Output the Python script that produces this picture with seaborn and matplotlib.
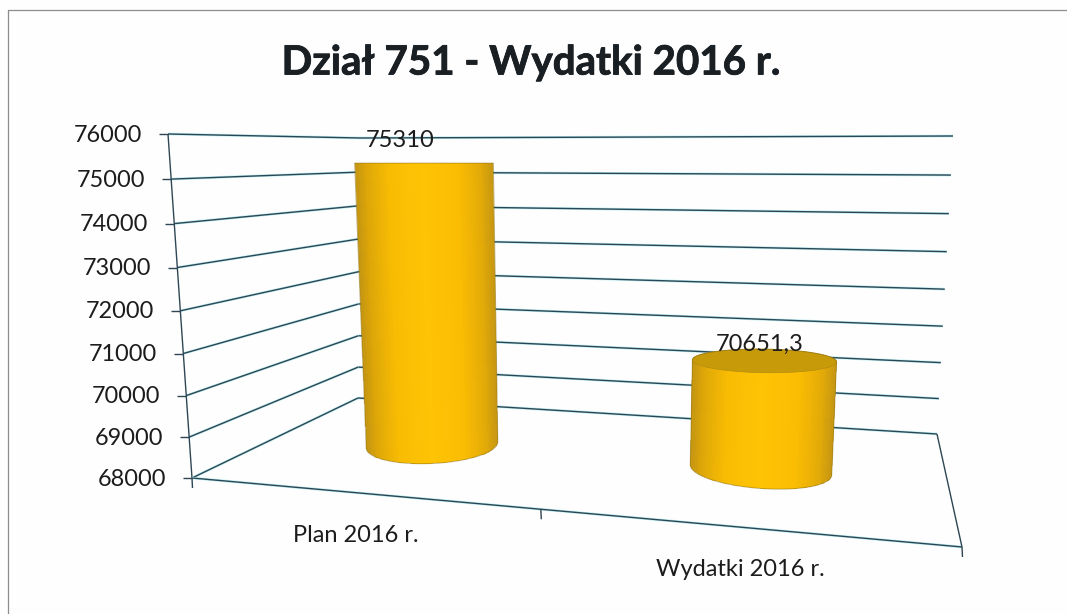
import numpy as np
import pandas as pd
import matplotlib
matplotlib.use("Agg")
import matplotlib.pyplot as plt
import matplotlib.patheffects as pe
import seaborn as sns
from matplotlib.colors import LinearSegmentedColormap
from matplotlib.patches import Polygon
from matplotlib.path import Path
from matplotlib.transforms import Transform, IdentityTransform

# ---- data ----
title = "Dział 751 - Wydatki 2016 r."
categories = ["Plan 2016 r.", "Wydatki 2016 r."]
values = [75310, 70651.3]
value_labels = ["75310", "70651,3"]
y_ticks = [68000, 69000, 70000, 71000, 72000, 73000, 74000, 75000, 76000]

W, H = 1067, 614
sns.set_theme(style="white")
plt.rcParams["font.family"] = ["Lato", "DejaVu Sans"]


class Plane(Transform):
    """View of one wall of the 3-D chart: (a, value) -> pixels."""
    input_dims = output_dims = 2
    is_affine = False
    has_inverse = False

    def __init__(self, xlim, ylim, bl, br, tl, tr, curve=-0.056):
        super().__init__()
        self.xlim, self.ylim, self.curve = xlim, ylim, curve
        self.c = [np.array([p[0], H - p[1]], float) for p in (bl, br, tl, tr)]

    def transform_non_affine(self, values):
        pts = np.asarray(values, float).reshape(-1, 2)
        u = ((pts[:, 0] - self.xlim[0]) / (self.xlim[1] - self.xlim[0]))[:, None]
        v = ((pts[:, 1] - self.ylim[0]) / (self.ylim[1] - self.ylim[0]))[:, None]
        v = v + self.curve * v * (1 - v)
        bl, br, tl, tr = self.c
        return (1 - v) * ((1 - u) * bl + u * br) + v * ((1 - u) * tl + u * tr)


fig = plt.figure(figsize=(W / 100, H / 100), dpi=100, facecolor="#fefefe")
ax = fig.add_axes([0, 0, 1, 1])

df = pd.DataFrame({"kategoria": categories, "wartosc": values})
sns.barplot(data=df, x="kategoria", y="wartosc", color="#FFC000", saturation=1,
            width=0.42, ax=ax, zorder=3)
ax.set_xlim(-0.5, 1.5)
ax.set_ylim(y_ticks[0], y_ticks[-1])
ax.autoscale(False)
ax.axis("off")
ylim = ax.get_ylim()
px = IdentityTransform()

bars = Plane(ax.get_xlim(), ylim, (267.5, 432.5), (925.5, 482.5), (248.8, 138.5), (946.4, 124.5))
side = Plane((0, 1), ylim, (192, 478), (358, 398), (168, 134), (360, 138))
back = Plane((0, 1), ylim, (358, 398), (937, 434), (360, 138), (953, 136))
floor = Plane((0, 1), (0, 1), (192, 478), (962, 547), (358, 398), (937, 434), curve=0)

LINE = "#2e4653"
fringe = [pe.Stroke(linewidth=1.9, foreground="#bdeef2"), pe.Normal()]
line_kw = dict(color=LINE, lw=1.0, zorder=1, clip_on=False, solid_capstyle="butt")

# scanned page frame
fig.add_artist(plt.Line2D([7.5 / W, 7.5 / W], [0, 1 - 10 / H], color="#8c8c8c", lw=0.9))
fig.add_artist(plt.Line2D([7.5 / W, 1], [1 - 10 / H, 1 - 10 / H], color="#8c8c8c", lw=0.9))

# walls, floor, axis
for v in y_ticks:
    ax.plot([0, 1], [v, v], transform=side, path_effects=fringe, **line_kw)
    ax.plot([0, 1], [v, v], transform=back, path_effects=fringe, **line_kw)
    x0, y0 = side.transform([(0, v)])[0]
    ax.plot([x0 - 9, x0], [y0, y0], transform=px, **line_kw)
    ax.annotate(f"{v}", xy=(0, v), xycoords=side, xytext=(-26, -1), textcoords="offset pixels",
                ha="right", va="center", fontsize=16.9, color="#1c1c1c")
ax.plot([0, 0], [y_ticks[0], y_ticks[-1]], transform=side, **line_kw)
ax.plot([0, 1], [0, 0], transform=floor, path_effects=fringe, **line_kw)
ax.plot([1, 1], [0, 1], transform=floor, **line_kw)
for t in (0, 0.453, 1):
    x0, y0 = floor.transform([(t, 0)])[0]
    ax.plot([x0, x0 + 0.5], [y0, y0 - 10], transform=px, **line_kw)

# category labels below the front edge of the floor
for i, name in enumerate(categories):
    ax.annotate(name, xy=(0.25 + 0.5 * i, 0), xycoords=floor, xytext=(-29, -40),
                textcoords="offset pixels", ha="center", va="center",
                fontsize=17, color="#1c1c1c")

# cylinders
shade = LinearSegmentedColormap.from_list(
    "cyl", [(0, "#c49512"), (0.08, "#dea708"), (0.25, "#f8bc03"), (0.5, "#ffc305"),
            (0.75, "#fabd03"), (0.92, "#e2aa08"), (1, "#c89812")])
EYE = max(values)
MINOR = 18.5
bar_widths = [0.40, 0.43]
# slope of each cylinder's end ellipses: (bottom, top)
end_slopes = [(-0.045, 0.0), (0.07, 0.014)]


def ellipse_arc(xa, xb, v, sign, slope):
    a = bars.transform([(xa, v)])[0]
    b = bars.transform([(xb, v)])[0]
    mid, half = (a + b) / 2, (b - a) / 2
    half[1] = half[0] * -slope
    minor = MINOR * (EYE - v) / (EYE - ylim[0])
    t = np.linspace(0, np.pi, 60)[::-1]
    return mid + np.outer(np.cos(t), half) + np.outer(sign * np.sin(t), [0, minor])


for i, (patch, val) in enumerate(zip(ax.patches, values)):
    w = bar_widths[i]
    xa = i - w / 2
    xb = xa + w
    patch.set_bounds(xa, ylim[0], w, val - ylim[0])
    patch.set_transform(bars)
    patch.set_clip_on(False)
    patch.set_visible(False)
    s_bottom, s_top = end_slopes[i]
    upper = ellipse_arc(xa, xb, val, 1, s_top)
    lower = ellipse_arc(xa, xb, ylim[0], -1, s_bottom)
    outline = np.vstack([upper, lower[::-1]])
    xs = np.linspace(xa, xb, 81)
    ys = np.array([ylim[0] - 900, val + 900])
    mesh = ax.pcolormesh(xs, ys, np.linspace(0, 1, 80)[None, :], cmap=shade, vmin=0, vmax=1,
                         transform=bars, zorder=3.2, shading="flat", antialiased=False)
    mesh.set_clip_path(Path(np.vstack([outline, outline[:1]])), px)
    ax.add_patch(Polygon(outline, closed=True, fill=False, ec="#8f7414", lw=0.7, alpha=0.55,
                         transform=px, zorder=3.4, clip_on=False))
    if val < EYE:
        cap = np.vstack([upper, ellipse_arc(xa, xb, val, -1, s_top)[::-1]])
        ax.add_patch(Polygon(cap, closed=True, fc="#c79a0a", ec="#b58c10", lw=0.5,
                             transform=px, zorder=3.3, clip_on=False))

# value labels
label_offsets = [(-24, 23), (-5, 17)]
for i, (val, text, off) in enumerate(zip(values, value_labels, label_offsets)):
    ax.annotate(text, xy=(i, val), xycoords=bars, xytext=off, textcoords="offset pixels",
                ha="center", va="center", fontsize=17, color="#1c1c1c", zorder=6)

fig.text(531 / W, 1 - 63 / H, title, ha="center", va="center", fontsize=29,
         fontweight="bold", color="#1a1f24",
         path_effects=[pe.withStroke(linewidth=0.6, foreground="#1a1f24")])

fig.savefig("out.png", dpi=100)
